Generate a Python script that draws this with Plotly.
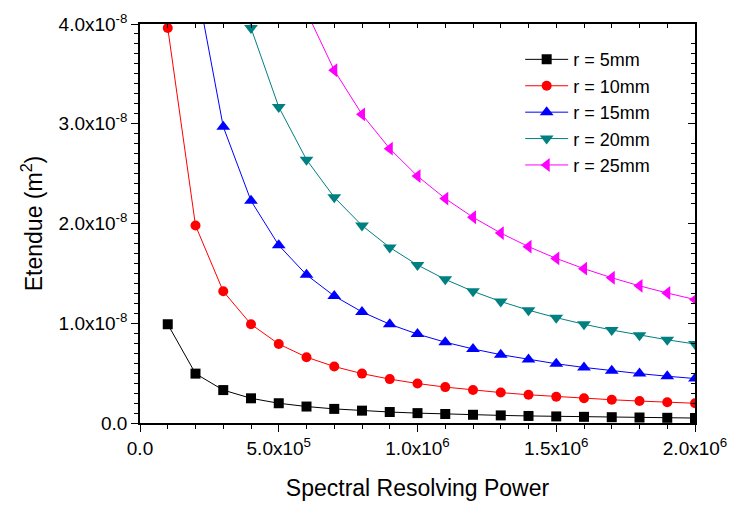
import plotly.graph_objects as go

# Spectral resolving power (x) values
resolving_power = [1e5, 2e5, 3e5, 4e5, 5e5, 6e5, 7e5, 8e5, 9e5, 1.0e6,
                   1.1e6, 1.2e6, 1.3e6, 1.4e6, 1.5e6, 1.6e6, 1.7e6, 1.8e6, 1.9e6, 2.0e6]

# Etendue values (m^2)
etendue_r5 = [0.99e-8, 0.495e-8, 0.33e-8, 0.2475e-8, 0.198e-8, 0.165e-8, 0.1414e-8, 0.1238e-8, 0.11e-8, 0.099e-8,
              0.09e-8, 0.0825e-8, 0.0762e-8, 0.0707e-8, 0.066e-8, 0.0619e-8, 0.0582e-8, 0.055e-8, 0.0521e-8, 0.0495e-8]
etendue_r10 = [3.96e-8, 1.98e-8, 1.32e-8, 0.99e-8, 0.792e-8, 0.66e-8, 0.566e-8, 0.495e-8, 0.44e-8, 0.396e-8,
               0.36e-8, 0.33e-8, 0.305e-8, 0.283e-8, 0.264e-8, 0.2475e-8, 0.233e-8, 0.22e-8, 0.208e-8, 0.198e-8]
etendue_r15 = [8.91e-8, 4.455e-8, 2.97e-8, 2.2275e-8, 1.782e-8, 1.485e-8, 1.273e-8, 1.114e-8, 0.99e-8, 0.891e-8,
               0.81e-8, 0.7425e-8, 0.685e-8, 0.636e-8, 0.594e-8, 0.557e-8, 0.524e-8, 0.495e-8, 0.469e-8, 0.4455e-8]
etendue_r20 = [15.84e-8, 7.92e-8, 5.28e-8, 3.96e-8, 3.168e-8, 2.64e-8, 2.263e-8, 1.98e-8, 1.76e-8, 1.584e-8,
               1.44e-8, 1.32e-8, 1.218e-8, 1.131e-8, 1.056e-8, 0.99e-8, 0.932e-8, 0.88e-8, 0.834e-8, 0.792e-8]
etendue_r25 = [24.75e-8, 12.375e-8, 8.25e-8, 6.1875e-8, 4.95e-8, 4.125e-8, 3.536e-8, 3.094e-8, 2.75e-8, 2.475e-8,
               2.25e-8, 2.0625e-8, 1.904e-8, 1.768e-8, 1.65e-8, 1.547e-8, 1.456e-8, 1.375e-8, 1.303e-8, 1.2375e-8]

series_names = ["r = 5mm", "r = 10mm", "r = 15mm", "r = 20mm", "r = 25mm"]

x_tick_vals = [0, 5e5, 1e6, 1.5e6, 2e6]
x_tick_text = ["0.0", "5.0x10<sup>5</sup>", "1.0x10<sup>6</sup>", "1.5x10<sup>6</sup>", "2.0x10<sup>6</sup>"]
y_tick_vals = [0, 1e-8, 2e-8, 3e-8, 4e-8]
y_tick_text = ["0.0", "1.0x10<sup>-8</sup>", "2.0x10<sup>-8</sup>", "3.0x10<sup>-8</sup>", "4.0x10<sup>-8</sup>"]

all_series = [etendue_r5, etendue_r10, etendue_r15, etendue_r20, etendue_r25]
colors = ["#000000", "#ff0000", "#0000ff", "#008080", "#ff00ff"]
symbols = ["square", "circle", "triangle-up", "triangle-down", "triangle-left"]
sizes = [10, 10, 12, 12, 12]

FONT = "Liberation Sans, Arial, sans-serif"
fig = go.Figure()
for i, (vals, name) in enumerate(zip(all_series, series_names)):
    fig.add_trace(go.Scatter(
        x=resolving_power, y=vals, name=name, mode="lines+markers",
        line=dict(color=colors[i], width=1),
        marker=dict(symbol=symbols[i], size=sizes[i], color=colors[i], line=dict(width=0)),
    ))

# dummy trace for mirrored (top/right) axes
fig.add_trace(go.Scatter(x=[None], y=[None], xaxis="x2", yaxis="y2",
                         showlegend=False, hoverinfo="skip"))

xr = [0, 2e6]
yr = [0, 4e-8]
fig.update_layout(
    width=738, height=511,
    paper_bgcolor="white", plot_bgcolor="white",
    margin=dict(l=140, r=38, t=11, b=88),
    font=dict(family=FONT, color="black", size=19),
    showlegend=True,
    legend=dict(x=0.685, y=0.957, xanchor="left", yanchor="top",
                bgcolor="rgba(0,0,0,0)", font=dict(size=18, family=FONT),
                itemwidth=43),
    xaxis=dict(range=xr, showline=True, linecolor="black", linewidth=1.5,
               ticks="outside", ticklen=7, tickwidth=1.2, tickcolor="black",
               tickvals=x_tick_vals, ticktext=x_tick_text, ticklabeloverflow="allow",
               minor=dict(ticks="outside", ticklen=4, tickwidth=1.2, tickcolor="black", dtick=1e5, tick0=0),
               showgrid=False, zeroline=False,
               tickfont=dict(size=19, family=FONT),
               title=dict(text="Spectral Resolving Power", font=dict(size=23, family=FONT), standoff=22)),
    yaxis=dict(range=yr, showline=True, linecolor="black", linewidth=1.5,
               ticks="outside", ticklen=7, tickwidth=1.2, tickcolor="black",
               tickvals=y_tick_vals, ticktext=y_tick_text, ticklabeloverflow="allow",
               minor=dict(ticks="outside", ticklen=4, tickwidth=1.2, tickcolor="black", dtick=1e-9, tick0=0),
               showgrid=False, zeroline=False,
               tickfont=dict(size=19, family=FONT),
               title=dict(text="Etendue (m<sup>2</sup>)", font=dict(size=23, family=FONT), standoff=10)),
    xaxis2=dict(range=xr, overlaying="x", side="top", anchor="y2", showline=True, linecolor="black", linewidth=1.5,
                ticks="inside", ticklen=4, tickwidth=1.2, tickcolor="black", dtick=1e5, tick0=0,
                showticklabels=False, showgrid=False, zeroline=False),
    yaxis2=dict(range=yr, overlaying="y", side="right", anchor="x2", showline=True, linecolor="black", linewidth=1.5,
                ticks="inside", ticklen=7, tickwidth=1.2, tickcolor="black", dtick=1e-8, tick0=0,
                minor=dict(ticks="inside", ticklen=4, tickwidth=1.2, tickcolor="black", dtick=1e-9, tick0=0),
                showticklabels=False, showgrid=False, zeroline=False),
)

fig.write_html("out.html", config={"displayModeBar": False},
               post_script="document.body.style.margin='0';")
